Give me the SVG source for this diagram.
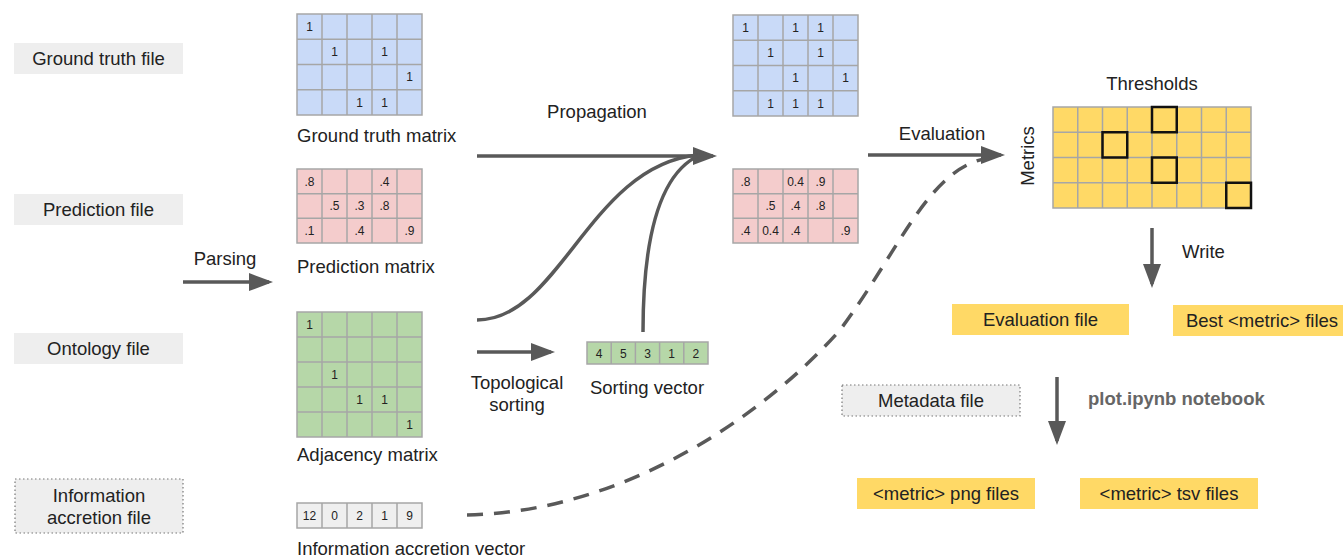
<svg xmlns="http://www.w3.org/2000/svg" width="1343" height="558" viewBox="0 0 1343 558">
<style>
text{font-family:"Liberation Sans",Arial,sans-serif;fill:#222}
.lbl{font-size:18.5px}
.cell{font-size:12px;text-anchor:middle}
.c{text-anchor:middle}
.grid{fill:none;stroke:#a6a6a6;stroke-width:1.5}
.blue{fill:#c9daf8}
.pink{fill:#f4cccc}
.green{fill:#b6d7a8}
.yellow{fill:#ffd966}
.lgray{fill:#efefef}
.filebox{fill:#eeeeee}
.dotbox{fill:#eeeeee;stroke:#777;stroke-width:1.2;stroke-dasharray:1.5 2.5}
.outbox{fill:#ffd966}
.arr{fill:none;stroke:#595959;stroke-width:3.5}
.dash{fill:none;stroke:#595959;stroke-width:3.5;stroke-dasharray:16 11}
.sel{fill:none;stroke:#111;stroke-width:2.5}
</style>
<defs>
<marker id="ah" markerUnits="userSpaceOnUse" markerWidth="24" markerHeight="18" refX="20" refY="9" orient="auto">
<path d="M0,0 L24,9 L0,18 z" fill="#595959"/>
</marker>
</defs>

<g id="ground-truth-file">
<rect class="filebox" x="14" y="43" width="169" height="31"/>
<text class="lbl c" x="98.5" y="65">Ground truth file</text>
</g>
<g id="prediction-file">
<rect class="filebox" x="14" y="194" width="169" height="31"/>
<text class="lbl c" x="98.5" y="216">Prediction file</text>
</g>
<g id="ontology-file">
<rect class="filebox" x="14" y="333" width="169" height="31"/>
<text class="lbl c" x="98.5" y="355">Ontology file</text>
</g>
<g id="information-accretion-file">
<rect class="dotbox" x="15" y="479" width="168" height="54"/>
<text class="lbl c" x="99" y="502">Information</text>
<text class="lbl c" x="99" y="524">accretion file</text>
</g>

<g id="ground-truth-matrix">
<rect class="blue" x="297" y="14" width="125" height="101"/>
<path class="grid" d="M297,14h125v101h-125z M322,14v101 M347,14v101 M372,14v101 M397,14v101 M297,39.25h125 M297,64.5h125 M297,89.75h125"/>
<text class="cell" x="309.5" y="31">1</text>
<text class="cell" x="334.5" y="56">1</text>
<text class="cell" x="384.5" y="56">1</text>
<text class="cell" x="409.5" y="81">1</text>
<text class="cell" x="359.5" y="106.5">1</text>
<text class="cell" x="384.5" y="106.5">1</text>
<text class="lbl" x="297" y="142">Ground truth matrix</text>
</g>

<g id="prediction-matrix">
<rect class="pink" x="297" y="169" width="125" height="74"/>
<path class="grid" d="M297,169h125v74h-125z M322,169v74 M347,169v74 M372,169v74 M397,169v74 M297,193.67h125 M297,218.33h125"/>
<text class="cell" x="309.5" y="185.5">.8</text>
<text class="cell" x="384.5" y="185.5">.4</text>
<text class="cell" x="334.5" y="210">.5</text>
<text class="cell" x="359.5" y="210">.3</text>
<text class="cell" x="384.5" y="210">.8</text>
<text class="cell" x="309.5" y="235">.1</text>
<text class="cell" x="359.5" y="235">.4</text>
<text class="cell" x="409.5" y="235">.9</text>
<text class="lbl" x="297" y="273">Prediction matrix</text>
</g>

<g id="adjacency-matrix">
<rect class="green" x="297" y="312" width="125" height="125"/>
<path class="grid" d="M297,312h125v125h-125z M322,312v125 M347,312v125 M372,312v125 M397,312v125 M297,337h125 M297,362h125 M297,387h125 M297,412h125"/>
<text class="cell" x="309.5" y="328.5">1</text>
<text class="cell" x="334.5" y="378.5">1</text>
<text class="cell" x="359.5" y="403.5">1</text>
<text class="cell" x="384.5" y="403.5">1</text>
<text class="cell" x="409.5" y="428.5">1</text>
<text class="lbl" x="297" y="461">Adjacency matrix</text>
</g>

<g id="information-accretion-vector">
<rect class="lgray" x="297" y="503" width="125" height="25"/>
<path class="grid" d="M297,503h125v25h-125z M322,503v25 M347,503v25 M372,503v25 M397,503v25"/>
<text class="cell" x="309.5" y="519.5">12</text>
<text class="cell" x="334.5" y="519.5">0</text>
<text class="cell" x="359.5" y="519.5">2</text>
<text class="cell" x="384.5" y="519.5">1</text>
<text class="cell" x="409.5" y="519.5">9</text>
<text class="lbl" x="297" y="555">Information accretion vector</text>
</g>

<g id="sorting-vector">
<rect class="green" x="587" y="342" width="121" height="22"/>
<path class="grid" d="M587,342h121v22h-121z M611.2,342v22 M635.4,342v22 M659.6,342v22 M683.8,342v22"/>
<text class="cell" x="599.1" y="357.5">4</text>
<text class="cell" x="623.3" y="357.5">5</text>
<text class="cell" x="647.5" y="357.5">3</text>
<text class="cell" x="671.7" y="357.5">1</text>
<text class="cell" x="695.9" y="357.5">2</text>
<text class="lbl c" x="647" y="394">Sorting vector</text>
</g>

<g id="propagated-ground-truth">
<rect class="blue" x="733" y="15" width="125" height="101"/>
<path class="grid" d="M733,15h125v101h-125z M758,15v101 M783,15v101 M808,15v101 M833,15v101 M733,40.25h125 M733,65.5h125 M733,90.75h125"/>
<text class="cell" x="745.5" y="32">1</text>
<text class="cell" x="795.5" y="32">1</text>
<text class="cell" x="820.5" y="32">1</text>
<text class="cell" x="770.5" y="57">1</text>
<text class="cell" x="820.5" y="57">1</text>
<text class="cell" x="795.5" y="82">1</text>
<text class="cell" x="845.5" y="82">1</text>
<text class="cell" x="770.5" y="107.5">1</text>
<text class="cell" x="795.5" y="107.5">1</text>
<text class="cell" x="820.5" y="107.5">1</text>
</g>

<g id="propagated-prediction">
<rect class="pink" x="733" y="169" width="125" height="74"/>
<path class="grid" d="M733,169h125v74h-125z M758,169v74 M783,169v74 M808,169v74 M833,169v74 M733,193.67h125 M733,218.33h125"/>
<text class="cell" x="745.5" y="185.5">.8</text>
<text class="cell" x="795.5" y="185.5">0.4</text>
<text class="cell" x="820.5" y="185.5">.9</text>
<text class="cell" x="770.5" y="210">.5</text>
<text class="cell" x="795.5" y="210">.4</text>
<text class="cell" x="820.5" y="210">.8</text>
<text class="cell" x="745.5" y="235">.4</text>
<text class="cell" x="770.5" y="235">0.4</text>
<text class="cell" x="795.5" y="235">.4</text>
<text class="cell" x="845.5" y="235">.9</text>
</g>

<g id="metrics-grid">
<rect class="yellow" x="1053" y="107" width="198" height="101"/>
<path class="grid" d="M1053,107h198v101h-198z M1077.75,107v101 M1102.5,107v101 M1127.25,107v101 M1152,107v101 M1176.75,107v101 M1201.5,107v101 M1226.25,107v101 M1053,132.25h198 M1053,157.5h198 M1053,182.75h198"/>
<rect class="sel" x="1152" y="107" width="24.75" height="25.25"/>
<rect class="sel" x="1102.5" y="132.25" width="24.75" height="25.25"/>
<rect class="sel" x="1152" y="157.5" width="24.75" height="25.25"/>
<rect class="sel" x="1226.25" y="182.75" width="24.75" height="25.25"/>
<text class="lbl c" x="1152" y="90">Thresholds</text>
<text class="lbl c" transform="translate(1034,156) rotate(-90)">Metrics</text>
</g>

<g id="evaluation-file">
<rect class="outbox" x="952" y="304" width="177" height="31"/>
<text class="lbl c" x="1040.5" y="326">Evaluation file</text>
</g>
<g id="best-metric-files">
<rect class="outbox" x="1173" y="305" width="170" height="31"/>
<text class="lbl c" x="1262" y="327">Best &lt;metric&gt; files</text>
</g>
<g id="metadata-file">
<rect class="dotbox" x="842" y="385" width="178" height="31"/>
<text class="lbl c" x="931" y="407">Metadata file</text>
</g>
<g id="metric-png-files">
<rect class="outbox" x="857" y="478" width="178" height="31"/>
<text class="lbl c" x="946" y="500">&lt;metric&gt; png files</text>
</g>
<g id="metric-tsv-files">
<rect class="outbox" x="1080" y="478" width="178" height="31"/>
<text class="lbl c" x="1169" y="500">&lt;metric&gt; tsv files</text>
</g>

<g id="connectors">
<path class="arr" d="M183,282 H269" marker-end="url(#ah)"/>
<text class="lbl c" x="225" y="265">Parsing</text>
<path class="arr" d="M477,156 H713" marker-end="url(#ah)"/>
<path class="arr" d="M477,320 C560,320 590,165 698,155"/>
<path class="arr" d="M643,332 Q643,180 700,155"/>
<text class="lbl c" x="597" y="118">Propagation</text>
<path class="arr" d="M477,352 H551" marker-end="url(#ah)"/>
<text class="lbl c" x="517" y="389">Topological</text>
<text class="lbl c" x="517" y="411">sorting</text>
<path class="arr" d="M868,155 H1001" marker-end="url(#ah)"/>
<text class="lbl c" x="942" y="140">Evaluation</text>
<path class="dash" d="M467,515 C620,512 760,420 840,330 C900,250 930,165 990,158"/>
<path class="arr" d="M1152,228 V284" marker-end="url(#ah)"/>
<text class="lbl" x="1182" y="258">Write</text>
<path class="arr" d="M1057,377 V441" marker-end="url(#ah)"/>
<text class="lbl" x="1088" y="405" style="font-weight:bold;fill:#666">plot.ipynb notebook</text>
</g>
</svg>
